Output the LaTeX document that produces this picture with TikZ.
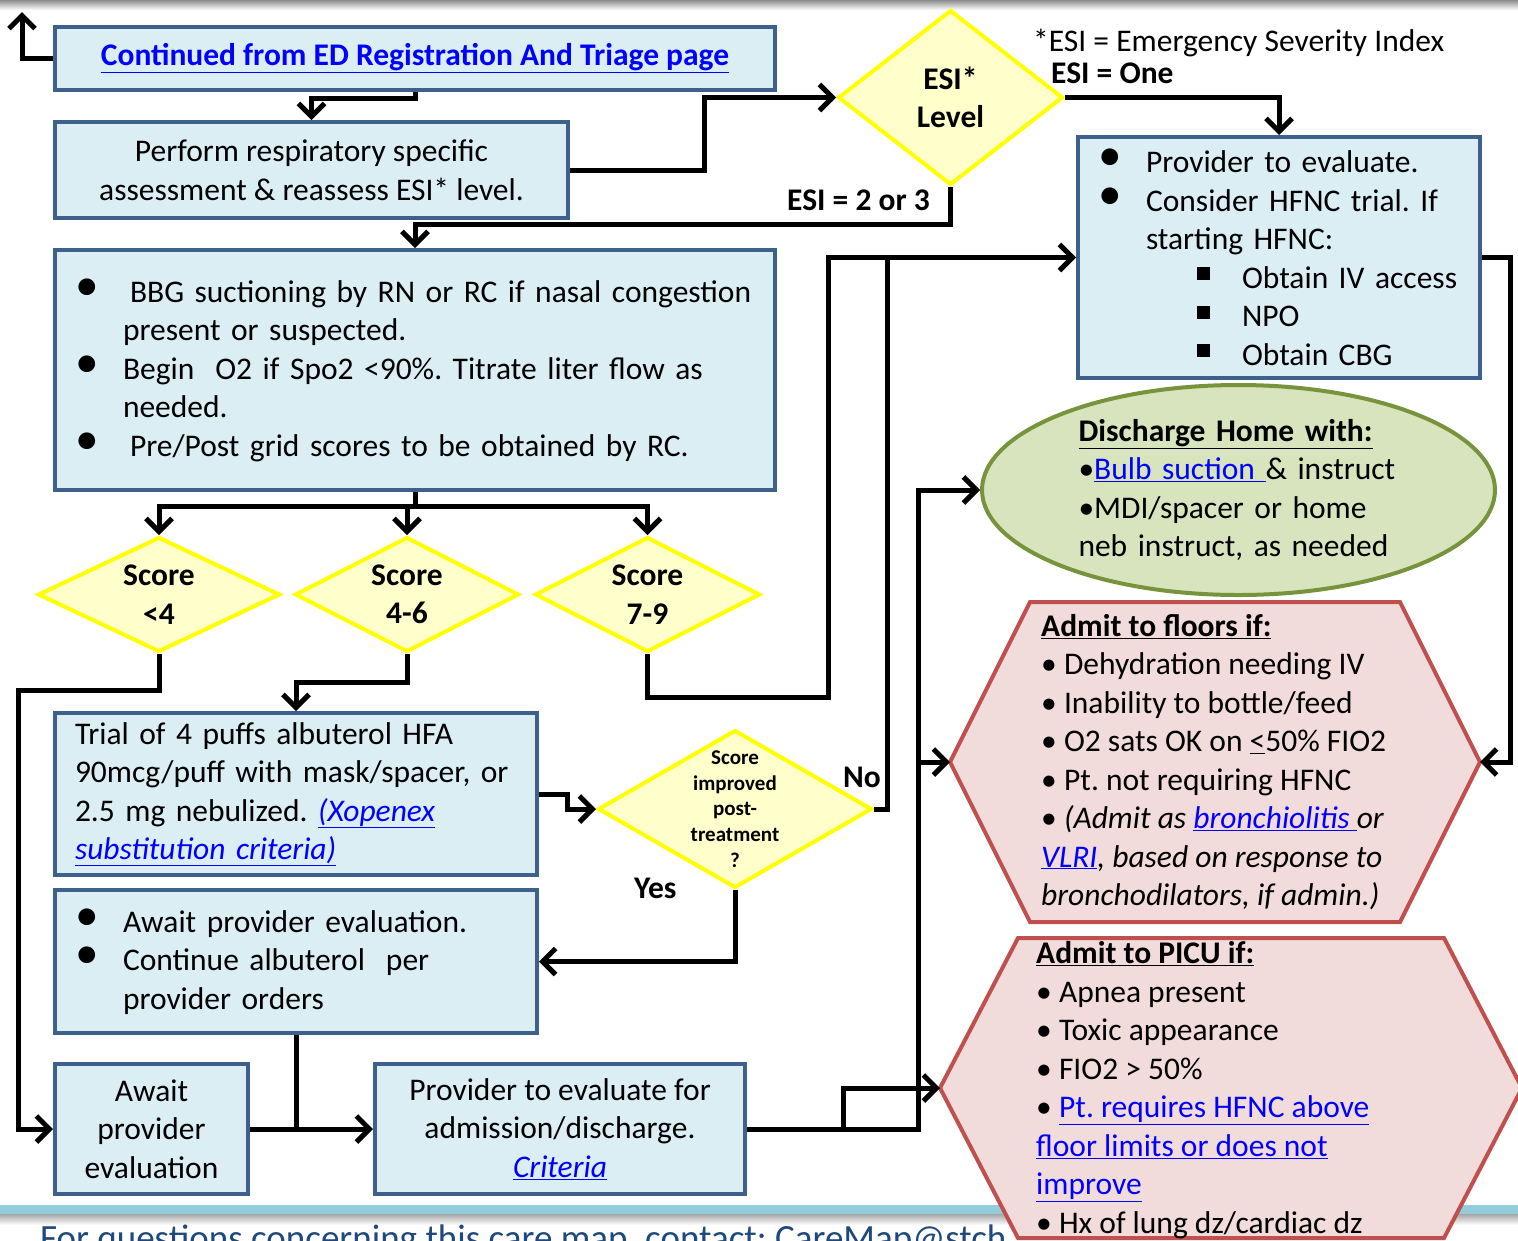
\documentclass[tikz,border=0pt]{standalone}
\usepackage{fontspec}
\setmainfont{Carlito}
\usepackage{tikz}
\usetikzlibrary{arrows.meta,shapes,calc,positioning}
\definecolor{boxfill}{RGB}{219,238,244}
\definecolor{boxline}{RGB}{62,96,140}
\definecolor{decfill}{RGB}{255,255,204}
\definecolor{decline}{RGB}{255,255,0}
\definecolor{discfill}{RGB}{215,228,189}
\definecolor{discline}{RGB}{119,147,60}
\definecolor{admfill}{RGB}{242,220,219}
\definecolor{admline}{RGB}{192,80,77}
\definecolor{linkblue}{RGB}{0,0,255}
\definecolor{footblue}{RGB}{146,205,220}
\definecolor{foottext}{RGB}{31,73,125}
\frenchspacing
\newcommand{\mainsize}{\fontsize{31.5}{38.5}\selectfont}
\newcommand{\lnk}[1]{\textcolor{linkblue}{\underline{#1}}}
\newcommand{\bdot}{\makebox[48pt][l]{\raisebox{2pt}{\scalebox{1.5}{\textbullet}}}}
\newcommand{\bsq}{\makebox[45pt][l]{\raisebox{8pt}{\rule{13pt}{13pt}}}}
\newcommand{\ind}{\hspace*{48pt}}
\tikzstyle{wire}=[draw,line width=5pt]
\tikzstyle{arrow}=[wire,-{Straight Barb[length=13pt,width=26pt]}]
\tikzstyle{block} =
  [rectangle, draw=boxline, fill=boxfill, line width=4pt,
   inner xsep=20pt, inner ysep=0pt, font=\mainsize]
\tikzstyle{decision} =
  [diamond, draw=decline, fill=decfill, line width=4pt, inner sep=0pt,
   align=center, font=\mainsize\bfseries]
\tikzstyle{cloud} =
  [ellipse, draw=discline, fill=discfill, line width=4pt, inner sep=0pt]
\tikzstyle{hexa}=[draw=admline, fill=admfill, line width=4pt]
\begin{document}
\begin{tikzpicture}[x=1pt, y=-1pt, inner sep=0pt, font=\mainsize]
  \clip (0,0) rectangle (1518,1240);
  \shade [top color=black!45, bottom color=white] (0,0) rectangle (1518,10);
  \fill [footblue] (0,1205) rectangle (1518,1214);
  \shade [top color=black!35, bottom color=white] (0,1214) rectangle (1518,1225);
  \node [anchor=base west, text=foottext, font=\fontsize{37}{44}\selectfont] (foot) at (40,1250)
    {For questions concerning this care map, contact: CareMap@stch};

  \node [block, minimum width=720pt, minimum height=63pt] (regpage) at (415,58.5)
    {\raisebox{-3pt}{\lnk{\textbf{Continued from ED Registration And Triage page}}}};
  \node [block, minimum width=513pt, minimum height=96pt, align=center] (assess) at (311.5,170)
    {Perform respiratory specific\\assessment \& reassess ESI* level.};
  \node [decision, minimum width=225pt, minimum height=175pt] (esi) at (950.5,97.5) {ESI*\\Level};
  \node [anchor=base west] (esidef) at (1033,51) {*ESI = Emergency Severity Index};
  \node [anchor=base west, font=\mainsize\bfseries] (esione) at (1051,83) {ESI = One};
  \node [anchor=base west, font=\mainsize\bfseries] (esitwo) at (787,210) {ESI = 2 or 3};

  \node [block, minimum width=402pt, minimum height=241pt, text width=362pt, align=left] (hfnc) at (1279,257.5)
    {\bdot Provider to evaluate.\\
     \bdot Consider HFNC trial. If\\
     \ind starting HFNC:\\
     \hspace*{99pt}\bsq Obtain IV access\\
     \hspace*{99pt}\bsq NPO\\
     \hspace*{99pt}\bsq Obtain CBG};
  \node [block, minimum width=720pt, minimum height=240pt, text width=680pt, align=left] (bbg) at (415,370)
    {\bdot\hspace{7pt}BBG suctioning by RN or RC if nasal congestion\\
     \ind present or suspected.\\
     \bdot Begin\ \ O2 if Spo2 <90\%. Titrate liter flow as\\
     \ind needed.\\
     \bdot\hspace{7pt}Pre/Post grid scores to be obtained by RC.};

  \node [decision, minimum width=242pt, minimum height=115pt, aspect=2.1] (s1) at (159,594.5) {Score\\<4};
  \node [decision, minimum width=224pt, minimum height=115pt, aspect=2.1] (s2) at (407,594.5) {Score\\4-6};
  \node [decision, minimum width=225pt, minimum height=115pt, aspect=2.1] (s3) at (647.5,594.5) {Score\\7-9};

  \node [block, minimum width=482pt, minimum height=162pt, text width=442pt, align=left] (trial) at (296,794)
    {Trial of 4 puffs albuterol HFA\\
     90mcg/puff with mask/spacer, or\\
     2.5 mg nebulized. \lnk{\textit{(Xopenex}}\\
     \lnk{\textit{substitution criteria)}}};
  \node [decision, minimum width=274pt, minimum height=158pt,
    label={[font=\fontsize{21}{25.8}\selectfont\bfseries, align=center]center:Score\\improved\\post-\\treatment\\?}] (imp) at (735,809) {};
  \node [anchor=base west, font=\mainsize\bfseries] (no) at (843,787) {No};
  \node [anchor=base west, font=\mainsize\bfseries] (yes) at (634,898) {Yes};
  \node [block, minimum width=482pt, minimum height=143pt, text width=442pt, align=left] (contalb) at (296,961.5)
    {\bdot Await provider evaluation.\\
     \bdot Continue albuterol\ \ per\\
     \ind provider orders};
  \node [block, minimum width=193pt, minimum height=130pt, align=center] (await) at (151.5,1129)
    {Await\\provider\\evaluation};
  \node [block, minimum width=370pt, minimum height=130pt, align=center] (prov) at (560,1129)
    {Provider to evaluate for\\admission/discharge.\\\lnk{\textit{Criteria}}};

  \node [cloud, minimum width=513pt, minimum height=210pt, text width=320pt, align=left] (disc) at (1238.5,490)
    {\underline{\textbf{Discharge Home with:}}\\
     \textbullet\lnk{Bulb suction }\& instruct\\
     \textbullet MDI/spacer or home\\
     neb instruct, as needed};

  \draw [hexa] (950,762) -- (1030,602) -- (1400,602) -- (1480,762) -- (1400,922) -- (1030,922) -- cycle;
  \coordinate (flrW) at (950,762);
  \coordinate (flrE) at (1480,762);
  \node [anchor=west, align=left] (floors) at (1041,762)
    {\underline{\textbf{Admit to floors if:}}\\
     \textbullet\ Dehydration needing IV\\
     \textbullet\ Inability to bottle/feed\\
     \textbullet\ O2 sats OK on \underline{<}50\% FIO2\\
     \textbullet\ Pt. not requiring HFNC\\
     \textbullet\ \textit{(Admit as \lnk{bronchiolitis }or}\\
     \textit{\lnk{VLRI}, based on response to}\\
     \textit{bronchodilators, if admin.)}};

  \draw [hexa] (940,1088) -- (1018,938) -- (1444,938) -- (1522,1088) -- (1444,1238) -- (1018,1238) -- cycle;
  \coordinate (picuW) at (940,1088);
  \node [anchor=west, align=left] (picu) at (1036,1090)
    {\underline{\textbf{Admit to PICU if:}}\\
     \textbullet\ Apnea present\\
     \textbullet\ Toxic appearance\\
     \textbullet\ FIO2 > 50\%\\
     \textbullet\ \lnk{Pt. requires HFNC above}\\
     \lnk{floor limits or does not}\\
     \lnk{improve}\\
     \textbullet\ Hx of lung dz/cardiac dz};

  \coordinate (prev) at (22,12);
  \coordinate (split) at (415,506);
  \draw [arrow] (regpage.west) -| (prev);
  \draw [arrow] (regpage.south) -- (415,98) -| (assess.north);
  \draw [arrow] (assess.east) -- (704,170) |- (esi.west);
  \draw [arrow] (esi.east) -| (hfnc.north);
  \draw [arrow] (esi.south) -- (950.5,224) -| (bbg.north);
  \draw [wire] (bbg.south) -- (split);
  \foreach \s in {s1,s2,s3}
    \draw [arrow] (split) -| (\s.north);
  \draw [arrow] (s1.south) -- (159,690) -- (18,690) |- (await.west);
  \draw [arrow] (s2.south) -- (407,682) -| (trial.north);
  \draw [arrow] (s3.south) -- (647.5,697) -- (828,697) |- (hfnc.west);
  \draw [arrow] (trial.east) -- (567,794) |- (imp.west);
  \draw [wire] (imp.east) -- (887,809) -- (887,257.5);
  \draw [arrow] (imp.south) |- (contalb.east);
  \draw [wire] (contalb.south) -- (contalb.south |- await.east);
  \draw [arrow] (await.east) -- (prov.west);
  \draw [arrow] (prov.east) -- (918,1129) |- (disc.west);
  \draw [arrow] (918,762) -- (flrW);
  \draw [arrow] (843,1129) |- (picuW);
  \draw [arrow] (hfnc.east) -- (1510,257.5) |- (flrE);
\end{tikzpicture}
\end{document}
